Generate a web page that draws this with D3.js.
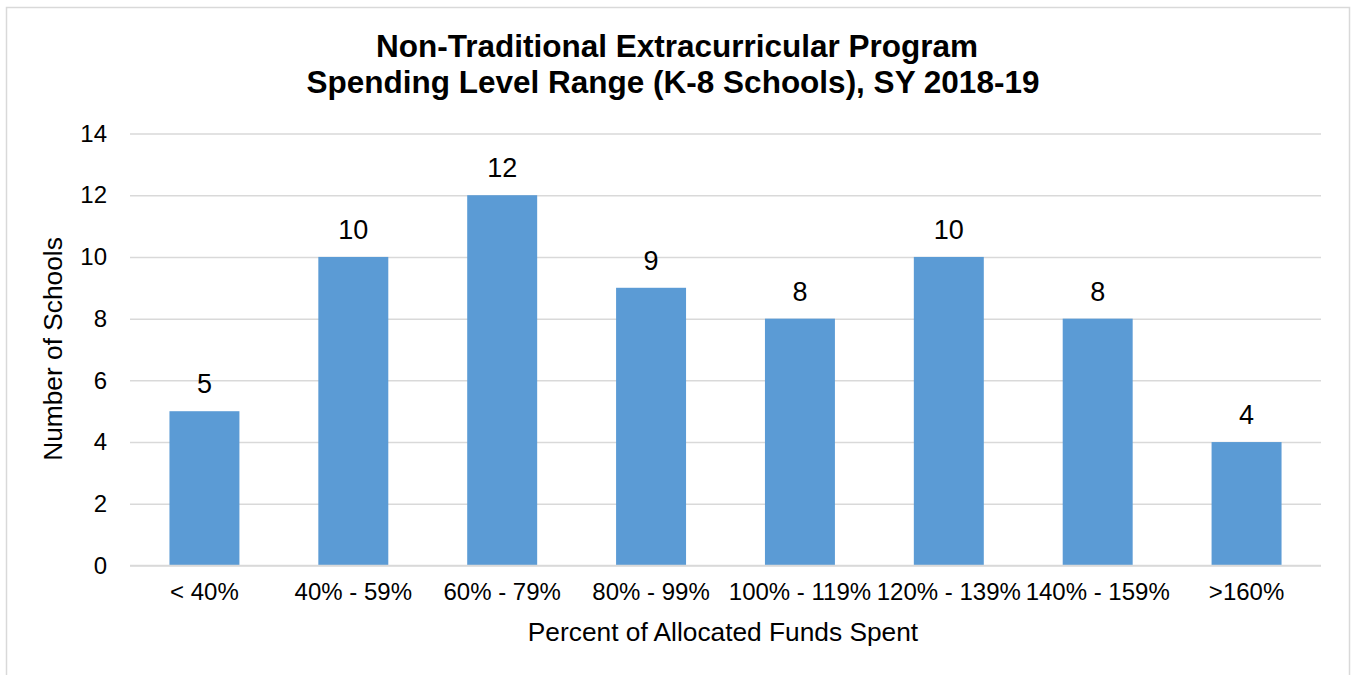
<!DOCTYPE html>
<html>
<head>
<meta charset="utf-8">
<script src="https://cdn.jsdelivr.net/npm/d3@7"></script>
<style>
  html, body { margin: 0; padding: 0; background: #fff; }
  svg { display: block; font-family: "Liberation Sans", Arial, sans-serif; }
</style>
</head>
<body>
<div id="chart"></div>
<script>
// data
const categories = ["< 40%", "40% - 59%", "60% - 79%", "80% - 99%", "100% - 119%", "120% - 139%", "140% - 159%", ">160%"];
const schools = [5, 10, 12, 9, 8, 10, 8, 4];
const yTicks = [0, 2, 4, 6, 8, 10, 12, 14];
const titleLines = ["Non-Traditional Extracurricular Program", "Spending Level Range (K-8 Schools), SY 2018-19"];

const W = 1351, H = 675;
const margin = {top: 133.5, right: 30, bottom: 109.5, left: 130};
const width = W - margin.left - margin.right;
const height = H - margin.top - margin.bottom;

const svg = d3.select("#chart").append("svg")
    .attr("width", W).attr("height", H);

// chart frame
svg.append("rect")
    .attr("x", 6.5).attr("y", 7.5).attr("width", 1343).attr("height", 700)
    .attr("fill", "none").attr("stroke", "#d9d9d9").attr("stroke-width", 1.5);

// title
svg.append("text")
    .attr("x", 676).attr("y", 56.5)
    .attr("text-anchor", "middle")
    .attr("font-size", 31.5).attr("font-weight", "bold").attr("fill", "#000")
  .selectAll("tspan").data(titleLines).join("tspan")
    .attr("x", (d, i) => i ? 673 : 677).attr("dy", (d, i) => i ? 36.5 : 0)
    .text(d => d);

const g = svg.append("g").attr("transform", `translate(${margin.left},${margin.top})`);

const x = d3.scaleBand().domain(categories).range([0, width]).paddingInner(0.53).paddingOuter(0.265);
const y = d3.scaleLinear().domain([0, 14]).range([height, 0]);

// gridlines
g.append("g")
    .call(d3.axisLeft(y).tickValues(yTicks).tickSize(-width).tickFormat(""))
    .call(a => a.select(".domain").remove())
    .call(a => a.selectAll("line").attr("stroke", "#d9d9d9").attr("stroke-width", 1.5));

// y tick labels
g.append("g")
    .call(d3.axisLeft(y).tickValues(yTicks).tickSize(0).tickPadding(23))
    .call(a => a.select(".domain").remove())
    .call(a => a.selectAll("text").attr("font-size", 24).attr("fill", "#000")
        .attr("font-family", "Liberation Sans, Arial, sans-serif"));

// bars
g.selectAll("rect.bar").data(schools).join("rect")
    .attr("class", "bar")
    .attr("x", (d, i) => x(categories[i]))
    .attr("y", d => y(d))
    .attr("width", x.bandwidth())
    .attr("height", d => y(0) - y(d))
    .attr("fill", "#5b9bd5");

// data labels
g.selectAll("text.val").data(schools).join("text")
    .attr("class", "val")
    .attr("x", (d, i) => x(categories[i]) + x.bandwidth() / 2)
    .attr("y", d => y(d) - 18)
    .attr("text-anchor", "middle")
    .attr("font-size", 27).attr("fill", "#000")
    .text(d => d);

// x axis labels
g.append("g")
    .attr("transform", `translate(0,${height})`)
    .call(d3.axisBottom(x).tickSize(0).tickPadding(17))
    .call(a => a.select(".domain").remove())
    .call(a => a.selectAll("text").attr("font-size", 24).attr("fill", "#000")
        .attr("font-family", "Liberation Sans, Arial, sans-serif"));

g.append("line")
    .attr("x1", 0).attr("x2", width).attr("y1", y(0)).attr("y2", y(0))
    .attr("stroke", "#d9d9d9").attr("stroke-width", 1.5);

// axis titles
svg.append("text")
    .attr("x", 723).attr("y", 641)
    .attr("text-anchor", "middle")
    .attr("font-size", 26.3).attr("fill", "#000")
    .text("Percent of Allocated Funds Spent");

svg.append("text")
    .attr("transform", "translate(62,349) rotate(-90)")
    .attr("text-anchor", "middle")
    .attr("font-size", 26.3).attr("fill", "#000")
    .text("Number of Schools");
</script>
</body>
</html>
